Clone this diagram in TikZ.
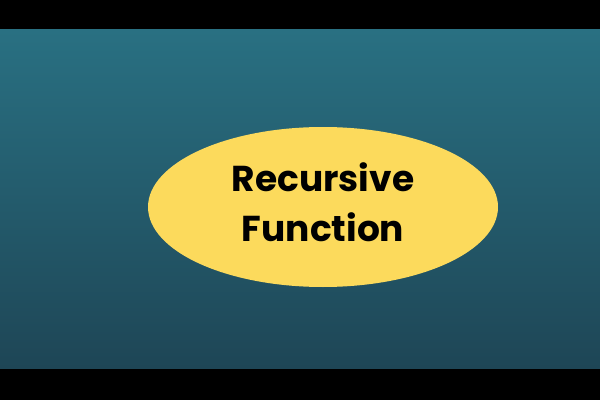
\documentclass[tikz,border=0pt]{standalone}
\usepackage{fontspec}
\setmainfont{Poppins}
\usetikzlibrary{shapes.geometric}
\definecolor{bgtop}{RGB}{41,112,130}
\definecolor{bgbot}{RGB}{30,70,86}
\definecolor{ell}{RGB}{252,218,92}
\tikzset{bubble/.style={ellipse,fill=ell,minimum width=350pt,minimum height=160pt,inner sep=0pt,
  font=\bfseries\fontsize{36}{50}\selectfont,align=center,text=black}}
\begin{document}
\begin{tikzpicture}[x=1pt,y=1pt]
\useasboundingbox (0,0) rectangle (600,400);
\fill[black] (0,0) rectangle (600,400);
\shade[top color=bgtop,bottom color=bgbot] (0,32) rectangle (600,370);
\node[bubble] (rf) at (323,193) {};
\node[font=\bfseries\fontsize{36}{50}\selectfont,align=center,text=black] (t) at (323,198) {Recursive\\Function};
\end{tikzpicture}
\end{document}
